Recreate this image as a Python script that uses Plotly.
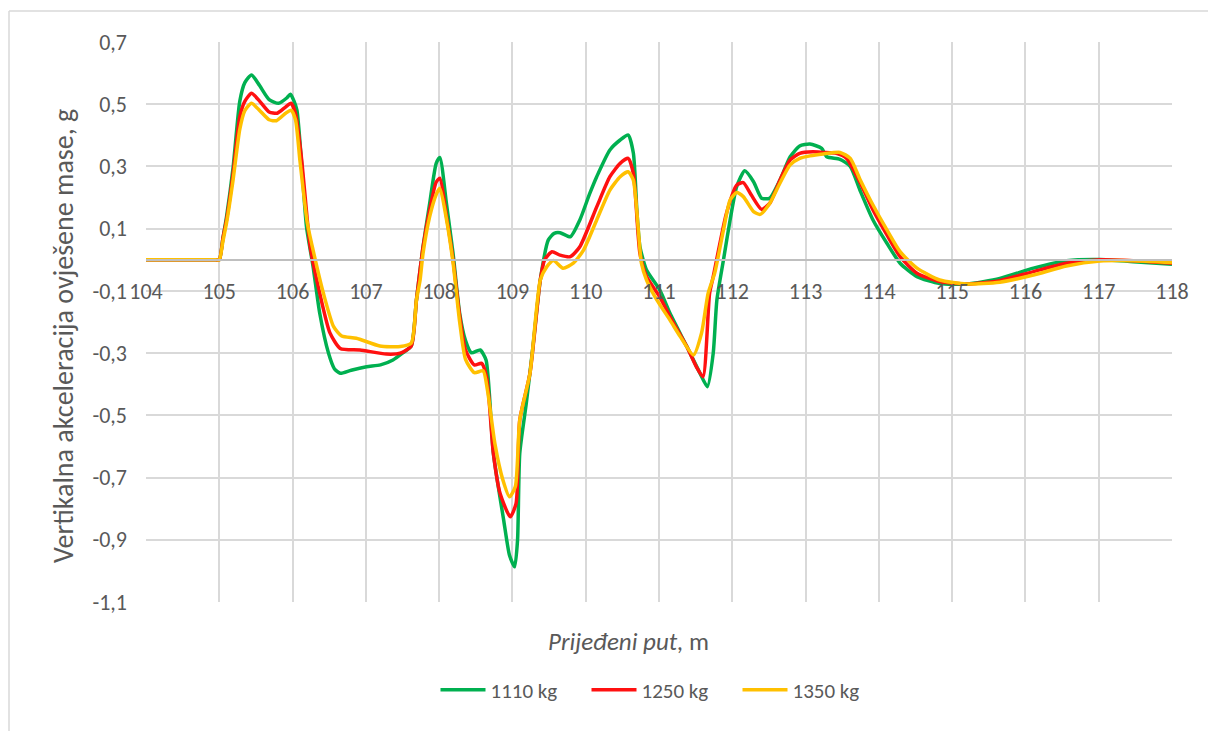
import plotly.graph_objects as go

# ---- data ----
x_1110 = [104.0, 104.5, 104.95, 105.0, 105.05, 105.1, 105.19, 105.28, 105.35, 105.44, 105.55, 105.68, 105.81, 105.92, 105.97,
          106.02, 106.06, 106.12, 106.19, 106.28, 106.37, 106.49, 106.57, 106.65, 106.8, 107.01, 107.2, 107.37,
          107.5, 107.62, 107.69, 107.78, 107.87, 107.96, 108.01, 108.1, 108.19, 108.28, 108.36, 108.44, 108.56,
          108.64, 108.74, 108.88, 108.96, 109.03, 109.07, 109.1, 109.19, 109.28, 109.38, 109.49, 109.57, 109.65,
          109.79, 109.92, 110.05, 110.15, 110.33, 110.47, 110.58, 110.65, 110.7, 110.74, 110.83, 111.01, 111.15,
          111.38, 111.56, 111.66, 111.74, 111.79, 111.88, 111.97, 112.06, 112.17, 112.29, 112.4, 112.51, 112.65,
          112.79, 112.92, 113.06, 113.22, 113.29, 113.47, 113.61, 113.74, 113.92, 114.11, 114.29, 114.52, 114.83,
          115.2, 115.65, 116.11, 116.56, 117.02, 117.47, 118.0]
y_1110 = [0.0, 0.0, 0.0, 0.0, 0.07, 0.14, 0.30, 0.51, 0.57, 0.594, 0.56, 0.515, 0.503, 0.52, 0.532,
          0.51, 0.48, 0.32, 0.106, -0.022, -0.171, -0.30, -0.35, -0.365, -0.355, -0.344, -0.338, -0.322,
          -0.30, -0.277, -0.13, 0.042, 0.18, 0.31, 0.329, 0.18, 0.02, -0.172, -0.26, -0.299, -0.29,
          -0.322, -0.622, -0.836, -0.95, -0.987, -0.9, -0.622, -0.46, -0.279, -0.065, 0.064, 0.085, 0.087,
          0.074, 0.128, 0.21, 0.267, 0.353, 0.385, 0.401, 0.343, 0.15, 0.042, -0.033, -0.097, -0.172,
          -0.279, -0.365, -0.408, -0.30, -0.129, 0.0, 0.128, 0.235, 0.286, 0.251, 0.198, 0.198, 0.256,
          0.331, 0.366, 0.372, 0.358, 0.331, 0.323, 0.30, 0.225, 0.128, 0.053, -0.011, -0.054, -0.076,
          -0.078, -0.06, -0.027, -0.003, 0.001, -0.006, -0.014]

x_1250 = [104.0, 104.5, 104.95, 105.0, 105.05, 105.1, 105.19, 105.28, 105.35, 105.44, 105.55, 105.68, 105.79, 105.9, 105.98,
          106.04, 106.12, 106.2, 106.24, 106.37, 106.51, 106.65, 106.92, 107.28, 107.47, 107.62, 107.69, 107.78,
          107.87, 107.96, 108.01, 108.1, 108.19, 108.28, 108.36, 108.48, 108.58, 108.65, 108.74, 108.83, 108.97,
          109.05, 109.1, 109.24, 109.38, 109.44, 109.54, 109.65, 109.79, 109.92, 110.15, 110.33, 110.47, 110.58,
          110.65, 110.74, 110.83, 111.01, 111.15, 111.38, 111.51, 111.6, 111.69, 111.74, 111.92, 112.06, 112.15,
          112.26, 112.4, 112.51, 112.65, 112.79, 112.92, 113.1, 113.24, 113.42, 113.56, 113.74, 113.92, 114.11,
          114.29, 114.52, 114.83, 115.2, 115.65, 116.11, 116.56, 117.02, 117.47, 118.0]
y_1250 = [0.0, 0.0, 0.0, 0.0, 0.07, 0.13, 0.28, 0.46, 0.51, 0.535, 0.51, 0.475, 0.471, 0.49, 0.503,
          0.47, 0.33, 0.13, 0.042, -0.107, -0.235, -0.285, -0.29, -0.303, -0.30, -0.277, -0.13, 0.04,
          0.16, 0.25, 0.262, 0.14, 0.0, -0.18, -0.29, -0.338, -0.333, -0.38, -0.622, -0.75, -0.826,
          -0.783, -0.515, -0.364, -0.065, 0.0, 0.026, 0.015, 0.010, 0.042, 0.17, 0.267, 0.31, 0.326,
          0.278, 0.02, -0.054, -0.119, -0.183, -0.279, -0.344, -0.376, -0.108, -0.054, 0.149, 0.24, 0.248,
          0.208, 0.162, 0.181, 0.256, 0.321, 0.342, 0.347, 0.345, 0.342, 0.326, 0.25, 0.16, 0.08,
          0.01, -0.043, -0.07, -0.078, -0.067, -0.038, -0.011, 0.0, -0.003, -0.011]

x_1350 = [104.0, 104.5, 104.95, 105.0, 105.05, 105.1, 105.19, 105.28, 105.35, 105.44, 105.55, 105.68, 105.78, 105.9, 105.98,
          106.04, 106.1, 106.2, 106.28, 106.42, 106.56, 106.67, 106.87, 107.19, 107.47, 107.62, 107.69, 107.74,
          107.78, 107.87, 107.96, 108.01, 108.1, 108.19, 108.28, 108.36, 108.48, 108.6, 108.66, 108.76, 108.87,
          108.96, 109.04, 109.1, 109.24, 109.38, 109.47, 109.56, 109.69, 109.83, 109.97, 110.15, 110.33, 110.47,
          110.58, 110.65, 110.76, 110.83, 110.97, 111.15, 111.29, 111.47, 111.58, 111.67, 111.76, 111.88, 111.97,
          112.06, 112.15, 112.29, 112.38, 112.51, 112.65, 112.79, 112.92, 113.06, 113.24, 113.47, 113.61, 113.74,
          113.92, 114.11, 114.29, 114.52, 114.83, 115.2, 115.65, 116.11, 116.56, 117.02, 117.47, 118.0]
y_1350 = [0.0, 0.0, 0.0, 0.0, 0.06, 0.12, 0.26, 0.42, 0.48, 0.503, 0.48, 0.45, 0.447, 0.47, 0.481,
          0.45, 0.32, 0.12, 0.031, -0.107, -0.215, -0.245, -0.252, -0.277, -0.279, -0.268, -0.13, -0.065,
          0.02, 0.138, 0.21, 0.23, 0.13, -0.01, -0.2, -0.32, -0.363, -0.357, -0.42, -0.59, -0.708,
          -0.762, -0.729, -0.515, -0.364, -0.065, -0.022, -0.002, -0.027, -0.011, 0.031, 0.128, 0.224, 0.267,
          0.283, 0.256, -0.011, -0.065, -0.129, -0.194, -0.247, -0.306, -0.236, -0.108, -0.043, 0.096, 0.192,
          0.216, 0.203, 0.155, 0.146, 0.181, 0.246, 0.305, 0.326, 0.334, 0.340, 0.345, 0.326, 0.26,
          0.176, 0.096, 0.026, -0.027, -0.065, -0.078, -0.072, -0.049, -0.02, -0.004, -0.003, -0.009]

series_names = ["1110 kg", "1250 kg", "1350 kg"]
series_colors = ["#00B050", "#FF1010", "#FFC000"]
x_ticks = list(range(104, 119))
y_ticks = [0.7, 0.5, 0.3, 0.1, -0.1, -0.3, -0.5, -0.7, -0.9, -1.1]
y_tick_text = ["0,7", "0,5", "0,3", "0,1", "-0,1", "-0,3", "-0,5", "-0,7", "-0,9", "-1,1"]

FONT = "Carlito, Calibri, Lato, sans-serif"
TXT = "#595959"
GRID = "#D9D9D9"

fig = go.Figure()
for xs, ys, name, col in zip([x_1110, x_1250, x_1350], [y_1110, y_1250, y_1350], series_names, series_colors):
    fig.add_trace(go.Scatter(x=xs, y=ys, name=name, mode="lines",
                             line=dict(color=col, width=3.5, shape="spline", smoothing=0.6)))

# plot area in pixels: left 146, right 1172, top 42, bottom 602
W, H = 1208, 731
L, R, T, B = 146, 1172, 42, 602
def px_x(px):
    return (px - L) / (R - L)
def px_y(py):
    return (B - py) / (B - T)

fig.update_layout(
    width=W, height=H,
    margin=dict(l=L, r=W - R, t=T, b=H - B, autoexpand=False),
    paper_bgcolor="white", plot_bgcolor="white",
    font=dict(family=FONT, color=TXT, size=22),
    showlegend=True,
    legend=dict(orientation="h", x=px_x(662), y=px_y(690), xanchor="center", yanchor="middle",
                font=dict(size=21, color=TXT, family=FONT), entrywidth=91, entrywidthmode="pixels",
                itemwidth=45, bgcolor="rgba(0,0,0,0)"),
    xaxis=dict(range=[104, 118], tickvals=x_ticks, ticktext=[str(v) for v in x_ticks],
               showgrid=True, gridcolor=GRID, gridwidth=1.5, zeroline=False,
               showline=True, linecolor="#BFBFBF", linewidth=1.5,
               anchor="free", position=1.1 / 1.8, ticks="", ticklabelstandoff=12,
               tickfont=dict(size=22, color=TXT, family=FONT)),
    yaxis=dict(range=[-1.1, 0.7], tickvals=y_ticks, ticktext=y_tick_text,
               showgrid=True, gridcolor=GRID, gridwidth=1.5, zeroline=False,
               showline=False, ticks="", ticklabelstandoff=18,
               tickfont=dict(size=22, color=TXT, family=FONT)),
    annotations=[
        dict(text="Vertikalna akceleracija ovješene mase, g", textangle=-90, showarrow=False,
             xref="paper", yref="paper", x=px_x(63), y=px_y(336), xanchor="center", yanchor="middle",
             font=dict(size=28, color=TXT, family=FONT)),
        dict(text="<i>Prijeđeni put,</i> m", showarrow=False,
             xref="paper", yref="paper", x=px_x(628), y=px_y(641), xanchor="center", yanchor="middle",
             font=dict(size=25, color=TXT, family=FONT)),
    ],
    shapes=[
        dict(type="line", xref="paper", yref="paper", x0=px_x(9), x1=px_x(9), y0=px_y(11), y1=px_y(740),
             line=dict(color=GRID, width=1.5)),
        dict(type="line", xref="paper", yref="paper", x0=px_x(9), x1=px_x(1215), y0=px_y(11), y1=px_y(11),
             line=dict(color=GRID, width=1.5)),
    ],
)

fig.write_html("out.html", config={"displayModeBar": False},
               post_script="document.body.style.margin='0px';document.body.style.overflow='hidden';")
